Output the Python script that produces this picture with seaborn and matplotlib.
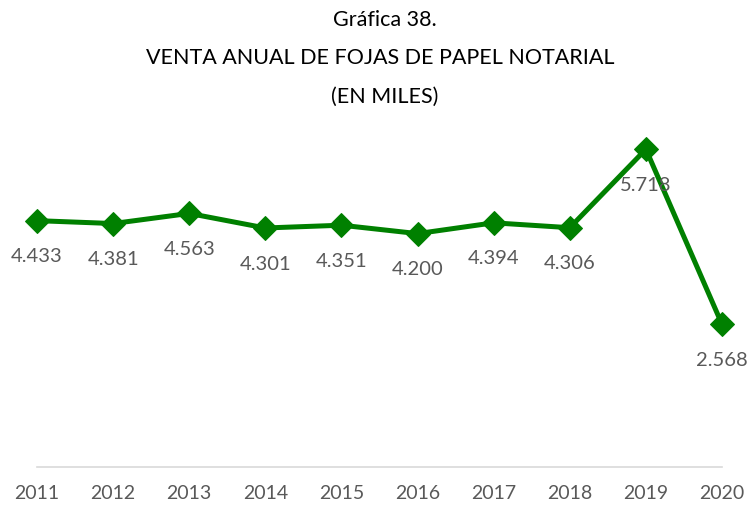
import matplotlib
matplotlib.use("Agg")
import matplotlib.pyplot as plt
import seaborn as sns
import pandas as pd

years = ["2011", "2012", "2013", "2014", "2015", "2016", "2017", "2018", "2019", "2020"]
ventas = [4433, 4381, 4563, 4301, 4351, 4200, 4394, 4306, 5718, 2568]

sns.set_theme(style="white")
plt.rcParams["font.family"] = ["Lato", "DejaVu Sans"]

df = pd.DataFrame({"pos": range(len(years)), "ventas": ventas})

fig = plt.figure(figsize=(7.51, 5.07), dpi=100)
ax = fig.add_axes([37 / 751, 40 / 507, 685 / 751, 389 / 507])

green = "#008000"
sns.lineplot(data=df, x="pos", y="ventas", ax=ax, color=green, linewidth=3.6,
             marker="D", markersize=12, markeredgecolor=green, markerfacecolor=green,
             clip_on=False)

for x, v in zip(df["pos"], ventas):
    label = f"{v:,}".replace(",", ".")
    ax.annotate(label, (x, v), xytext=(0, -26), textcoords="offset points",
                ha="center", va="center", fontsize=14.5, color="#595959")

ax.set_xlim(0, len(years) - 1)
ax.set_ylim(0, 7000)
ax.set_xticks(range(len(years)))
ax.set_xticklabels(years, fontsize=14, color="#595959")
ax.tick_params(axis="x", length=0, pad=13)
ax.set_yticks([])
ax.set_xlabel("")
ax.set_ylabel("")
for side in ["top", "right", "left"]:
    ax.spines[side].set_visible(False)
ax.spines["bottom"].set_color("#d9d9d9")
ax.spines["bottom"].set_linewidth(1.2)

title_kw = dict(ha="center", va="center", fontsize=15.5, color="black")
fig.text(385 / 751, 1 - 20 / 507, "Gráfica 38.", **title_kw)
fig.text(380 / 751, 1 - 58 / 507, "VENTA ANUAL DE FOJAS DE PAPEL NOTARIAL", **title_kw)
fig.text(385 / 751, 1 - 97 / 507, "(EN MILES)", **title_kw)

fig.savefig("out.png", dpi=100, facecolor="white")
